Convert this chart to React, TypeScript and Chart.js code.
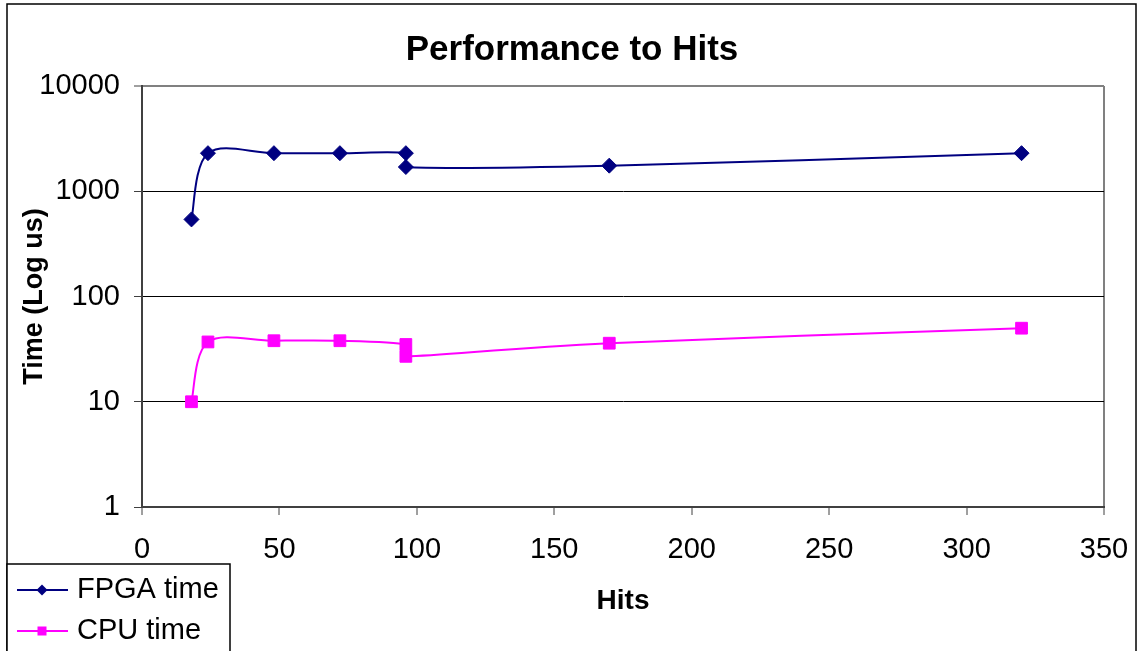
import React, { useEffect, useRef } from "react";
import { Chart, registerables } from "chart.js";

Chart.register(...registerables);

const chartTitle = "Performance to Hits";
const xAxisTitle = "Hits";
const yAxisTitle = "Time (Log us)";
const seriesNames = ["FPGA time", "CPU time"];
const hits = [18, 24, 48, 72, 96, 96, 170, 320];
const fpgaTime = [540, 2300, 2300, 2300, 2300, 1700, 1750, 2300];
const cpuTime = [10, 37, 38, 38, 35, 27, 36, 50];
const xTicks = [0, 50, 100, 150, 200, 250, 300, 350];
const yTicks = [1, 10, 100, 1000, 10000];

const FONT = "'Liberation Sans', Arial, sans-serif";
const NAVY = "#000080";
const MAGENTA = "#FF00FF";

// Excel-style smoothed line: Catmull-Rom control points (1/6), limited to half a segment
const excelSmoothPlugin = {
  id: "excelSmooth",
  beforeDatasetDraw(chart: any, args: any) {
    const meta = args.meta;
    const line = meta.dataset;
    if (!line || !line.updateControlPoints) return;
    line.updateControlPoints(chart.chartArea, meta.iScale.axis);
    const pts = line.points;
    const n = pts.length;
    const dist = (a: any, b: any) => Math.hypot(b.x - a.x, b.y - a.y);
    for (let i = 0; i < n - 1; i++) {
      const p1 = pts[i];
      const p2 = pts[i + 1];
      const p0 = i > 0 ? pts[i - 1] : p1;
      const p3 = i + 2 < n ? pts[i + 2] : p2;
      const d12 = dist(p1, p2);
      const d02 = dist(p0, p2);
      const d13 = dist(p1, p3);
      let f1 = 1 / 6;
      let f2 = 1 / 6;
      if (d02 > 0 && d02 / 6 >= d12 / 2) f1 = d12 / 2 / d02;
      if (d13 > 0 && d13 / 6 >= d12 / 2) f2 = d12 / 2 / d13;
      p1.cp2x = p1.x + f1 * (p2.x - p0.x);
      p1.cp2y = p1.y + f1 * (p2.y - p0.y);
      p2.cp1x = p2.x - f2 * (p3.x - p1.x);
      p2.cp1y = p2.y - f2 * (p3.y - p1.y);
    }
  },
};

const framePlugin = {
  id: "frameAndLegend",
  afterLayout(chart: any) {
    const tb = chart.titleBlock;
    if (tb) {
      tb.left = 1144 - tb.right;
    }
  },
  afterDraw(chart: any) {
    const ctx = chart.ctx as CanvasRenderingContext2D;
    ctx.save();
    // outer frame
    ctx.strokeStyle = "#000";
    ctx.lineWidth = 1.5;
    ctx.strokeRect(7, 4, 1129, 700);
    // legend box
    ctx.fillStyle = "#fff";
    ctx.fillRect(7, 564, 223, 100);
    ctx.lineWidth = 1.5;
    ctx.strokeRect(7, 564, 223, 100);
    chart.data.datasets.forEach((ds: any, i: number) => {
      const y = 590 + i * 41;
      ctx.strokeStyle = ds.borderColor;
      ctx.lineWidth = 2;
      ctx.beginPath();
      ctx.moveTo(17, y);
      ctx.lineTo(68, y);
      ctx.stroke();
      ctx.fillStyle = ds.borderColor;
      const cx = 42;
      if (i === 0) {
        ctx.beginPath();
        ctx.moveTo(cx, y - 5.5);
        ctx.lineTo(cx + 5.5, y);
        ctx.lineTo(cx, y + 5.5);
        ctx.lineTo(cx - 5.5, y);
        ctx.closePath();
        ctx.fill();
      } else {
        ctx.fillRect(cx - 4.5, y - 4.5, 9, 9);
      }
      ctx.fillStyle = "#000";
      ctx.font = `29px ${FONT}`;
      ctx.textBaseline = "middle";
      ctx.textAlign = "left";
      ctx.fillText(ds.label, 77, y);
    });
    ctx.restore();
  },
};

export default function App() {
  const canvasRef = useRef<HTMLCanvasElement | null>(null);

  useEffect(() => {
    const canvas = canvasRef.current;
    if (!canvas) return;
    const chart = new Chart(canvas, {
      type: "line",
      data: {
        datasets: [
          {
            label: seriesNames[0],
            data: hits.map((h, i) => ({ x: h, y: fpgaTime[i] })),
            borderColor: NAVY,
            backgroundColor: NAVY,
            borderWidth: 2,
            pointStyle: "rectRot",
            pointRadius: 7.5,
            pointBorderWidth: 1,
            pointBorderColor: NAVY,
            pointBackgroundColor: NAVY,
            tension: 0.4,
            fill: false,
          },
          {
            label: seriesNames[1],
            data: hits.map((h, i) => ({ x: h, y: cpuTime[i] })),
            borderColor: MAGENTA,
            backgroundColor: MAGENTA,
            borderWidth: 2,
            pointStyle: "rect",
            pointRadius: 8.3,
            pointBorderWidth: 1,
            pointBorderColor: MAGENTA,
            pointBackgroundColor: MAGENTA,
            tension: 0.4,
            fill: false,
          },
        ],
      },
      options: {
        responsive: false,
        maintainAspectRatio: false,
        animation: false,
        layout: { padding: { left: 0, right: 35, top: 0, bottom: 0 } },
        plugins: {
          legend: { display: false },
          tooltip: { enabled: false },
          title: {
            display: true,
            text: chartTitle,
            color: "#000",
            font: { family: FONT, size: 35, weight: "bold" },
            padding: { top: 29, bottom: 15 },
          },
        },
        scales: {
          x: {
            type: "linear",
            min: 0,
            max: 350,
            afterBuildTicks: (s: any) => {
              s.ticks = xTicks.map((v) => ({ value: v }));
            },
            afterFit: (s: any) => {
              s.height = 144;
              s.paddingLeft = 0;
              s.paddingRight = 0;
            },
            ticks: {
              color: "#000",
              font: { family: FONT, size: 29 },
              padding: 18,
              maxRotation: 0,
              autoSkip: false,
            },
            grid: {
              drawOnChartArea: true,
              color: (c: any) =>
                c.tick && c.tick.value === 350 ? "#808080" : "rgba(0,0,0,0)",
              lineWidth: 2,
              tickLength: 8,
              tickColor: "#404040",
              tickWidth: 1,
            },
            border: { color: "#404040", width: 2 },
            title: {
              display: true,
              text: xAxisTitle,
              color: "#000",
              font: { family: FONT, size: 28, weight: "bold" },
              padding: { top: 0, bottom: 33 },
            },
          },
          y: {
            type: "logarithmic",
            min: 1,
            max: 10000,
            afterBuildTicks: (s: any) => {
              s.ticks = yTicks.map((v) => ({ value: v }));
            },
            afterFit: (s: any) => {
              s.width = 142;
            },
            ticks: {
              color: "#000",
              font: { family: FONT, size: 29 },
              padding: 14,
              autoSkip: false,
              callback: (v: any) => String(v),
            },
            grid: {
              color: (c: any) =>
                c.tick && c.tick.value === 10000 ? "#808080" : "#000",
              lineWidth: (c: any) => (c.tick && c.tick.value === 10000 ? 2 : 1),
              tickLength: 8,
              tickColor: "#404040",
              tickWidth: 1,
            },
            border: { color: "#404040", width: 2 },
            title: {
              display: true,
              text: yAxisTitle,
              color: "#000",
              font: { family: FONT, size: 27, weight: "bold" },
              padding: { top: 18, bottom: 0 },
            },
          },
        },
      },
      plugins: [excelSmoothPlugin, framePlugin],
    });
    return () => chart.destroy();
  }, []);

  return (
    <div style={{ position: "absolute", left: 0, top: 0, width: 1139, height: 651, background: "#fff" }}>
      <canvas ref={canvasRef} width={1139} height={651} style={{ display: "block", width: 1139, height: 651 }} />
    </div>
  );
}
